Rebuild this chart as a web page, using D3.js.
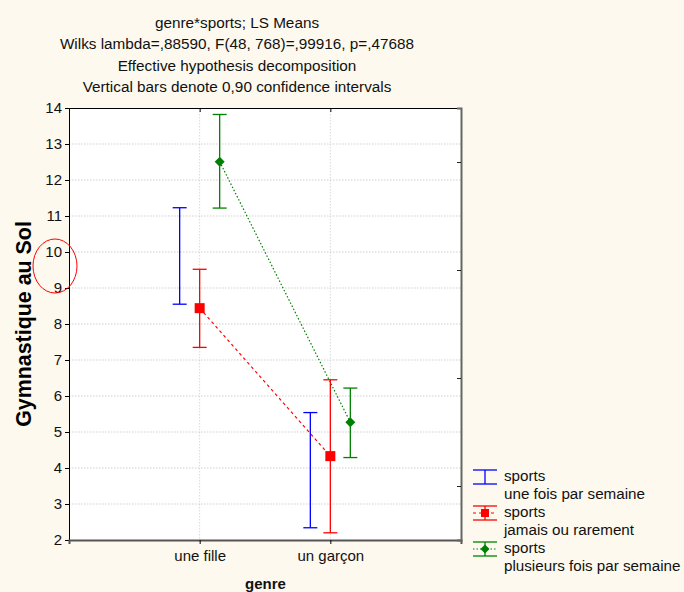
<!DOCTYPE html>
<html><head><meta charset="utf-8">
<script src="https://cdn.jsdelivr.net/npm/d3@7"></script>
<style>
html,body{margin:0;padding:0;background:#fdf9ee;}
svg{display:block;font-family:"Liberation Sans",Arial,sans-serif;}
</style></head>
<body>
<svg id="chart" width="684" height="592"></svg>
<script>
// ---- data ----
const titleLines = [
  "genre*sports; LS Means",
  "Wilks lambda=,88590, F(48, 768)=,99916, p=,47688",
  "Effective hypothesis decomposition",
  "Vertical bars denote 0,90 confidence intervals"
];
const categories = ["une fille", "un garçon"];
const seriesNames = ["sports\nune fois par semaine", "sports\njamais ou rarement", "sports\nplusieurs fois par semaine"];
const meanUneFoisSemaine = [9.89, 3.94];
const lowUneFoisSemaine  = [8.55, 2.34];
const highUneFoisSemaine = [11.23, 5.54];
const meanJamais = [8.44, 4.33];
const lowJamais  = [7.35, 2.20];
const highJamais = [9.52, 6.45];
const meanPlusieurs = [12.51, 5.27];
const lowPlusieurs  = [11.22, 4.29];
const highPlusieurs = [13.82, 6.22];
const yTicks = [2,3,4,5,6,7,8,9,10,11,12,13,14];
const rightTicks = [3.5, 6.5, 9.5, 12.5];

const series = [
  {name: seriesNames[0], mean: meanUneFoisSemaine, low: lowUneFoisSemaine, high: highUneFoisSemaine, color:"#0000ff", marker:"none", line:null, offset:-1},
  {name: seriesNames[1], mean: meanJamais, low: lowJamais, high: highJamais, color:"#ff0000", marker:"square", line:"3,3", offset:0},
  {name: seriesNames[2], mean: meanPlusieurs, low: lowPlusieurs, high: highPlusieurs, color:"#008000", marker:"diamond", line:"1.5,2", offset:1}
];

// ---- layout ----
const svg = d3.select("#chart");
const L = 69, R = 461, T = 108, B = 540;
const x = d3.scalePoint().domain(["", ...categories, " "]).range([L, R]);
const y = d3.scaleLinear().domain([2, 14]).range([B, T]);
const off = 20, capW = 7;
const FONT = "Liberation Sans, Arial, sans-serif";

// titles
svg.append("g").selectAll("text").data(titleLines).join("text")
  .attr("x", 237).attr("y", (d,i) => 27.5 + i*21.5)
  .attr("text-anchor","middle").attr("font-size", 15.3).attr("fill","#111")
  .text(d => d);

// plot background
svg.append("rect").attr("x", L).attr("y", T).attr("width", R-L).attr("height", B-T).attr("fill","#fff");

// grid
svg.append("g").selectAll("line").data(yTicks.slice(1,-1)).join("line")
  .attr("x1", L).attr("x2", R).attr("y1", d => y(d)).attr("y2", d => y(d))
  .attr("stroke","#cfcfcf").attr("stroke-dasharray","1.5,1.5");
svg.append("g").selectAll("line").data(categories).join("line")
  .attr("x1", d => x(d)).attr("x2", d => x(d)).attr("y1", T).attr("y2", B)
  .attr("stroke","#d8d8d8").attr("stroke-dasharray","1.5,1.5");

// axes
const yAxis = svg.append("g").attr("transform", `translate(${L},0)`)
  .call(d3.axisLeft(y).tickValues(yTicks).tickSize(4).tickPadding(3).tickFormat(d3.format("d")));
yAxis.select(".domain").attr("stroke","#000");
yAxis.selectAll("text").attr("font-size", 15).attr("fill","#111").attr("font-family",FONT);

const xAxis = svg.append("g").attr("transform", `translate(0,${B})`)
  .call(d3.axisBottom(x).tickValues(categories).tickSize(4).tickPadding(6));
xAxis.select(".domain").attr("stroke","#555").attr("stroke-width",2);
xAxis.selectAll("text").attr("font-size", 15).attr("fill","#111").attr("font-family",FONT);

const topAxis = svg.append("g").attr("transform", `translate(0,${T})`)
  .call(d3.axisBottom(x).tickValues(categories).tickSize(4).tickFormat(""));
topAxis.select(".domain").attr("stroke","#000");

const rightAxis = svg.append("g").attr("transform", `translate(${R},0)`)
  .call(d3.axisLeft(y).tickValues(rightTicks).tickSize(4).tickFormat(""));
rightAxis.select(".domain").attr("stroke","#666").attr("stroke-width",2);
rightAxis.selectAll(".tick line").attr("stroke","#222");

// axis titles
svg.append("text").attr("x", 265.5).attr("y", 589).attr("text-anchor","middle")
  .attr("font-size", 15).attr("font-weight","bold").attr("fill","#111").text("genre");
svg.append("text").attr("transform", `translate(31,${(T+B)/2}) rotate(-90)`)
  .attr("text-anchor","middle").attr("font-size", 21.4).attr("font-weight","bold").attr("fill","#000")
  .text("Gymnastique au Sol");

// red ellipse annotation
svg.append("ellipse").attr("cx", 55).attr("cy", 266).attr("rx", 22).attr("ry", 27)
  .attr("fill","none").attr("stroke","#ff0000").attr("stroke-width",1);

// series
const plot = svg.append("g");
series.forEach(s => {
  const g = plot.append("g");
  const px = i => x(categories[i]) + s.offset*off;
  if (s.line) {
    g.append("path").attr("d", d3.line()(categories.map((c,i) => [px(i), y(s.mean[i])])))
      .attr("fill","none").attr("stroke", s.color).attr("stroke-width",1.2).attr("stroke-dasharray", s.line);
  }
  categories.forEach((c,i) => {
    const cx = px(i);
    g.append("line").attr("x1",cx).attr("x2",cx).attr("y1",y(s.low[i])).attr("y2",y(s.high[i]))
      .attr("stroke", s.color).attr("stroke-width",1.3);
    [s.low[i], s.high[i]].forEach(v => g.append("line")
      .attr("x1",cx-capW).attr("x2",cx+capW).attr("y1",y(v)).attr("y2",y(v))
      .attr("stroke", s.color).attr("stroke-width",1.3));
    if (s.marker === "square") {
      g.append("rect").attr("x",cx-5).attr("y",y(s.mean[i])-5).attr("width",10).attr("height",10).attr("fill",s.color);
    } else if (s.marker === "diamond") {
      g.append("path").attr("transform",`translate(${cx},${y(s.mean[i])})`)
        .attr("d","M0,-5L5,0L0,5L-5,0Z").attr("fill",s.color);
    }
  });
});

// legend
const leg = svg.append("g");
series.forEach((s,i) => {
  const yTop = 470 + i*36, lx = 485;
  const gg = leg.append("g");
  gg.append("line").attr("x1",473).attr("x2",497).attr("y1",yTop).attr("y2",yTop).attr("stroke",s.color).attr("stroke-width",1.3);
  gg.append("line").attr("x1",473).attr("x2",497).attr("y1",yTop+14).attr("y2",yTop+14).attr("stroke",s.color).attr("stroke-width",1.3);
  gg.append("line").attr("x1",lx).attr("x2",lx).attr("y1",yTop).attr("y2",yTop+14).attr("stroke",s.color).attr("stroke-width",1.3);
  if (s.line) gg.append("line").attr("x1",473).attr("x2",497).attr("y1",yTop+7).attr("y2",yTop+7)
      .attr("stroke",s.color).attr("stroke-dasharray",s.line).attr("stroke-width",1.2);
  if (s.marker === "square") gg.append("rect").attr("x",lx-4).attr("y",yTop+3).attr("width",8).attr("height",8).attr("fill",s.color);
  if (s.marker === "diamond") gg.append("path").attr("transform",`translate(${lx},${yTop+7})`).attr("d","M0,-4.5L4.5,0L0,4.5L-4.5,0Z").attr("fill",s.color);
  s.name.split("\n").forEach((t,k) => {
    gg.append("text").attr("x",504).attr("y", yTop + 11 + k*18).attr("font-size",15.2).attr("fill","#111").text(t);
  });
});
</script>
</body></html>
